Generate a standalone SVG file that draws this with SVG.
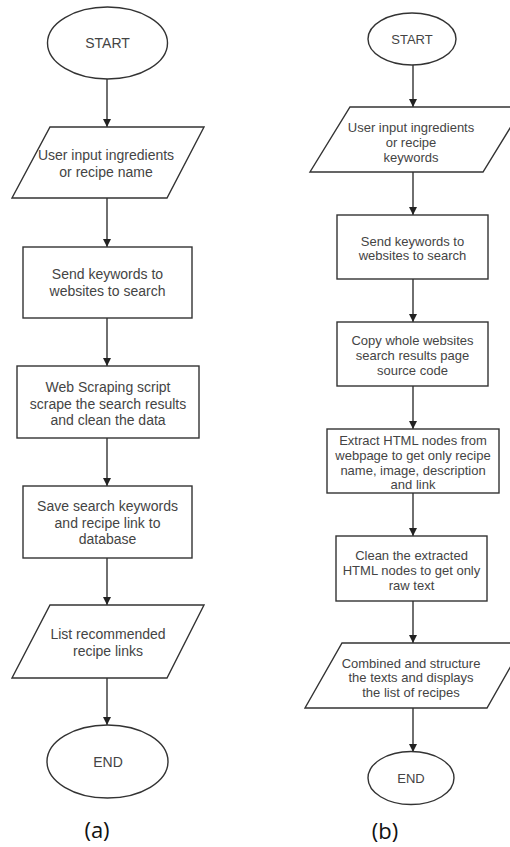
<svg xmlns="http://www.w3.org/2000/svg" width="510" height="847" viewBox="0 0 510 847">
<defs>
<marker id="ah" viewBox="0 0 10 10" refX="10" refY="5" markerWidth="8" markerHeight="8" markerUnits="userSpaceOnUse" orient="auto">
<path d="M0,0 L10,5 L0,10 Z" fill="#222"/>
</marker>
<style>
.s{fill:#fff;stroke:#333;stroke-width:1.4}
.c{fill:none;stroke:#333;stroke-width:1.4;marker-end:url(#ah)}
.ta{font-family:"Liberation Sans",Arial,sans-serif;font-size:14px;fill:#444;text-anchor:middle}
.tb{font-family:"Liberation Sans",Arial,sans-serif;font-size:13px;fill:#444;text-anchor:middle}
.lb{font-family:"Open Sans","Liberation Sans",sans-serif;font-size:22px;fill:#111;text-anchor:middle}
</style>
</defs>
<rect width="510" height="847" fill="#fff"/>
<g id="connectors">
<line class="c" x1="107" y1="79" x2="107" y2="127"/>
<line class="c" x1="107" y1="198" x2="107" y2="247"/>
<line class="c" x1="107" y1="318" x2="107" y2="366"/>
<line class="c" x1="107" y1="438" x2="107" y2="486"/>
<line class="c" x1="107" y1="558" x2="107" y2="605"/>
<line class="c" x1="107" y1="678" x2="107" y2="725"/>
<line class="c" x1="413" y1="65" x2="413" y2="107"/>
<line class="c" x1="413" y1="172" x2="413" y2="215"/>
<line class="c" x1="413" y1="279" x2="413" y2="322"/>
<line class="c" x1="413" y1="386" x2="413" y2="429"/>
<line class="c" x1="413" y1="493" x2="413" y2="536"/>
<line class="c" x1="413" y1="601" x2="413" y2="643"/>
<line class="c" x1="413" y1="708" x2="413" y2="752"/>
</g>
<g id="a-start">
<ellipse class="s" cx="107.5" cy="43" rx="60" ry="36"/>
<text class="ta" x="107.5" y="48">START</text>
</g>
<g id="a-input">
<polygon class="s" points="50,127 204,127 167,198 12,198"/>
<text class="ta" x="106" y="160">User input ingredients</text>
<text class="ta" x="106" y="177">or recipe name</text>
</g>
<g id="a-send">
<rect class="s" x="23" y="247" width="169" height="71"/>
<text class="ta" x="107.5" y="279">Send keywords to</text>
<text class="ta" x="107.5" y="296">websites to search</text>
</g>
<g id="a-scrape">
<rect class="s" x="17" y="366" width="182" height="72"/>
<text class="ta" x="108" y="392">Web Scraping script</text>
<text class="ta" x="108" y="408.5">scrape the search results</text>
<text class="ta" x="108" y="425">and clean the data</text>
</g>
<g id="a-save">
<rect class="s" x="23" y="486" width="169" height="72"/>
<text class="ta" x="107.5" y="511">Save search keywords</text>
<text class="ta" x="107.5" y="527.5">and recipe link to</text>
<text class="ta" x="107.5" y="544">database</text>
</g>
<g id="a-list">
<polygon class="s" points="50,605 204,605 167,678 12,678"/>
<text class="ta" x="108" y="639">List recommended</text>
<text class="ta" x="108" y="656">recipe links</text>
</g>
<g id="a-end">
<ellipse class="s" cx="107.5" cy="761.5" rx="60.5" ry="36.5"/>
<text class="ta" x="108" y="767">END</text>
</g>
<text class="lb" x="97" y="838">(a)</text>
<g id="b-start">
<ellipse class="s" cx="412" cy="39" rx="44" ry="26"/>
<text class="tb" x="412" y="43.5">START</text>
</g>
<g id="b-input">
<polygon class="s" points="350,107 523,107 483,172 310,172"/>
<text class="tb" x="411" y="131.5">User input ingredients</text>
<text class="tb" x="411" y="146.5">or recipe</text>
<text class="tb" x="411" y="161.5">keywords</text>
</g>
<g id="b-send">
<rect class="s" x="337" y="215" width="151" height="64"/>
<text class="tb" x="412.5" y="245.5">Send keywords to</text>
<text class="tb" x="412.5" y="260">websites to search</text>
</g>
<g id="b-copy">
<rect class="s" x="337" y="322" width="151" height="64"/>
<text class="tb" x="412.5" y="344.5">Copy whole websites</text>
<text class="tb" x="412.5" y="359.5">search results page</text>
<text class="tb" x="412.5" y="374.5">source code</text>
</g>
<g id="b-extract">
<rect class="s" x="327" y="429" width="172" height="64"/>
<text class="tb" x="413" y="444.5">Extract HTML nodes from</text>
<text class="tb" x="413" y="459.5">webpage to get only recipe</text>
<text class="tb" x="413" y="474.5">name, image, description</text>
<text class="tb" x="413" y="488.5">and link</text>
</g>
<g id="b-clean">
<rect class="s" x="336" y="536" width="151" height="65"/>
<text class="tb" x="411.5" y="559.5">Clean the extracted</text>
<text class="tb" x="411.5" y="574.5">HTML nodes to get only</text>
<text class="tb" x="411.5" y="589.5">raw text</text>
</g>
<g id="b-output">
<polygon class="s" points="342,643 524,643 487,708 305,708"/>
<text class="tb" x="411" y="667.5">Combined and structure</text>
<text class="tb" x="411" y="681.5">the texts and displays</text>
<text class="tb" x="411" y="696.5">the list of recipes</text>
</g>
<g id="b-end">
<ellipse class="s" cx="411" cy="778" rx="43" ry="26.5"/>
<text class="tb" x="411" y="782.5">END</text>
</g>
<text class="lb" x="385" y="839">(b)</text>
</svg>
